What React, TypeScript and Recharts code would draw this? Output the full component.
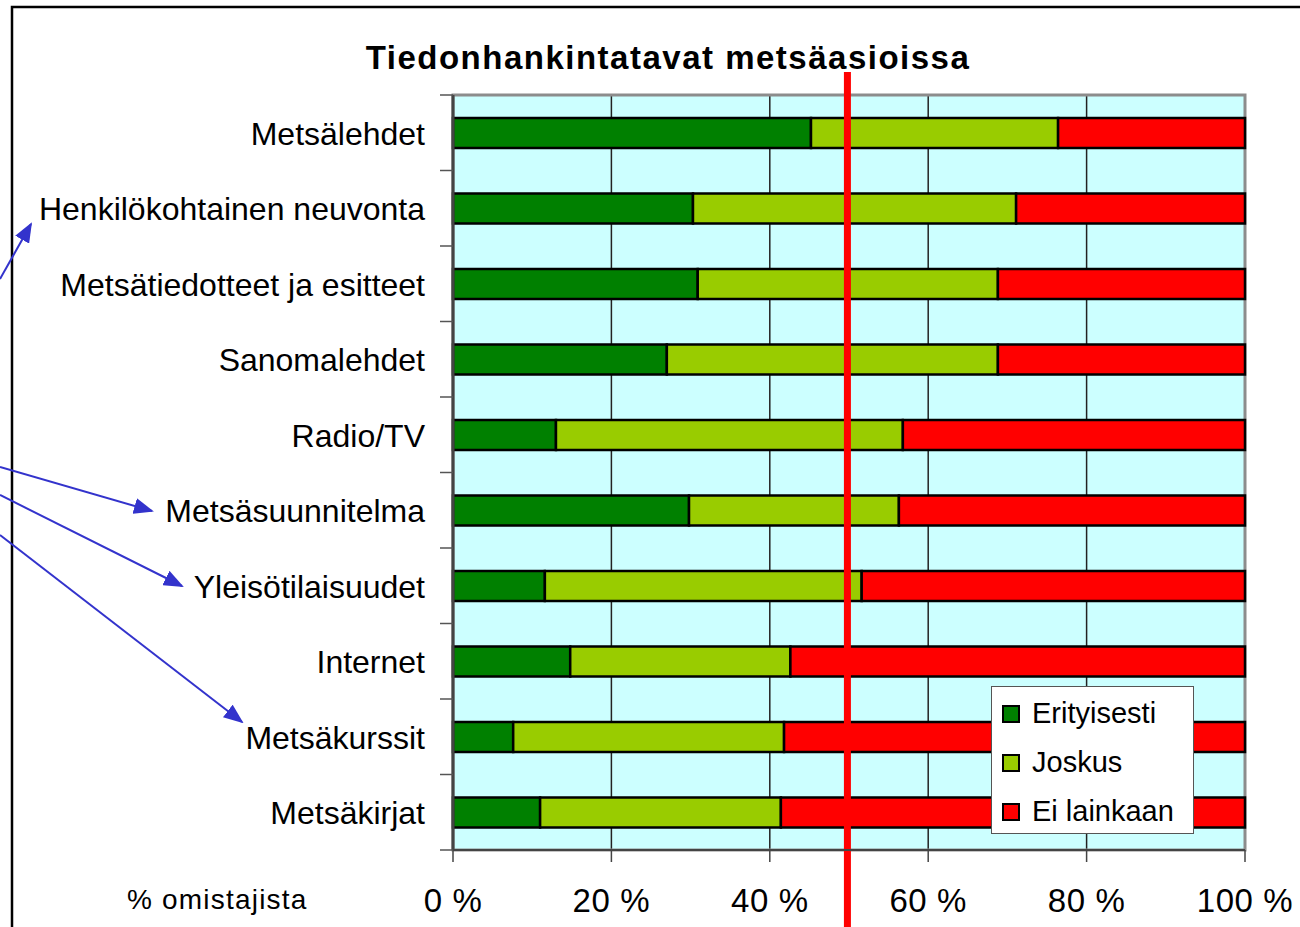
import React from "react";
import {
  Bar,
  BarChart,
  CartesianGrid,
  ReferenceArea,
  ReferenceLine,
  XAxis,
  YAxis,
} from "recharts";

const categories = [
  "Metsälehdet",
  "Henkilökohtainen neuvonta",
  "Metsätiedotteet ja esitteet",
  "Sanomalehdet",
  "Radio/TV",
  "Metsäsuunnitelma",
  "Yleisötilaisuudet",
  "Internet",
  "Metsäkurssit",
  "Metsäkirjat",
];
const erityisesti = [45.2, 30.3, 30.9, 27.0, 13.0, 29.8, 11.6, 14.8, 7.6, 11.0];
const joskus = [31.2, 40.8, 37.9, 41.8, 43.8, 26.5, 40.0, 27.8, 34.2, 30.4];
const eiLainkaan = [23.6, 28.9, 31.2, 31.2, 43.2, 43.7, 48.4, 57.4, 58.2, 58.6];
const xTicks = [0, 20, 40, 60, 80, 100];
const markerValue = 49.8;

const series = [
  { key: "erityisesti", name: "Erityisesti", color: "#008000" },
  { key: "joskus", name: "Joskus", color: "#99CC00" },
  { key: "ei", name: "Ei lainkaan", color: "#FF0000" },
];

const data = categories.map((name, i) => ({
  name,
  erityisesti: erityisesti[i],
  joskus: joskus[i],
  ei: eiLainkaan[i],
}));

const FONT = "'Liberation Sans', Arial, sans-serif";
const TOP = 95;
const BOTTOM = 850;
const LEFT = 453;
const BAND = (BOTTOM - TOP) / categories.length;

function CategoryTick(props: any) {
  const { x, y, payload, index } = props;
  const top = y - BAND / 2;
  return (
    <g>
      <line x1={LEFT - 13} x2={LEFT} y1={top} y2={top} stroke="#555" strokeWidth={1.5} />
      {index === categories.length - 1 && (
        <line x1={LEFT - 13} x2={LEFT} y1={top + BAND} y2={top + BAND} stroke="#555" strokeWidth={1.5} />
      )}
      <text
        x={x - 20}
        y={y + 1}
        textAnchor="end"
        dominantBaseline="central"
        fontSize={32}
        fontFamily={FONT}
        fill="#000"
      >
        {payload.value}
      </text>
    </g>
  );
}

// the red marker runs from just under the title to the bottom of the picture
function MarkerLine(props: any) {
  const { x1 } = props;
  return <line x1={x1} x2={x1} y1={TOP - 23} y2={927} stroke="#FF0000" strokeWidth={7} />;
}

function Arrow({ x1, y1, x2, y2 }: { x1: number; y1: number; x2: number; y2: number }) {
  return (
    <line x1={x1} y1={y1} x2={x2} y2={y2} stroke="#3333CC" strokeWidth={2} markerEnd="url(#arrowhead)" />
  );
}

export default function App() {
  return (
    <div style={{ position: "absolute", left: 0, top: 0, width: 1300, height: 927, background: "#fff", overflow: "hidden" }}>
      <BarChart
        width={1300}
        height={927}
        data={data}
        layout="vertical"
        barSize={30}
        margin={{ top: TOP, right: 1300 - 1245, bottom: 927 - BOTTOM - 60, left: 0 }}
      >
        <CartesianGrid horizontal={false} fill="#CCFFFF" stroke="#222" strokeWidth={1.5} verticalValues={[20, 40, 60, 80]} />
        <ReferenceArea x1={0} x2={100} fill="none" stroke="#8c8c8c" strokeWidth={3} ifOverflow="visible" />
        <XAxis
          type="number"
          domain={[0, 100]}
          ticks={xTicks}
          height={60}
          tickFormatter={(v: number) => `${v} %`}
          tick={{ fontSize: 33, fontFamily: FONT, fill: "#000", letterSpacing: 0.6 }}
          tickSize={12}
          tickMargin={27}
          stroke="#444"
          axisLine={{ stroke: "#444", strokeWidth: 2 }}
          tickLine={{ stroke: "#444", strokeWidth: 1.5 }}
          interval={0}
        />
        <YAxis
          type="category"
          dataKey="name"
          width={LEFT}
          tick={<CategoryTick />}
          tickLine={false}
          axisLine={{ stroke: "#444", strokeWidth: 3 }}
          interval={0}
        />
        {series.map((s) => (
          <Bar
            key={s.key}
            dataKey={s.key}
            name={s.name}
            stackId="a"
            fill={s.color}
            stroke="#000"
            strokeWidth={2.5}
            isAnimationActive={false}
          />
        ))}
        <ReferenceLine x={markerValue} shape={<MarkerLine />} ifOverflow="visible" />
      </BarChart>
      <svg width={1300} height={927} style={{ position: "absolute", left: 0, top: 0, pointerEvents: "none" }}>
        <defs>
          <marker id="arrowhead" markerWidth="10" markerHeight="8" refX="9" refY="4" orient="auto" markerUnits="strokeWidth">
            <path d="M0,0 L10,4 L0,8 Z" fill="#3333CC" />
          </marker>
        </defs>
        <rect x={12} y={7} width={1400} height={1000} fill="none" stroke="#000" strokeWidth={2.5} />
        <text x={668} y={69} textAnchor="middle" fontSize={33} fontWeight="bold" fontFamily={FONT} letterSpacing={1.5}>
          Tiedonhankintatavat metsäasioissa
        </text>
        <text x={127} y={909} fontSize={28} fontFamily={FONT} letterSpacing={1.2}>
          % omistajista
        </text>
        <Arrow x1={0} y1={279} x2={31} y2={224} />
        <Arrow x1={0} y1={467} x2={152} y2={511} />
        <Arrow x1={0} y1={495} x2={182} y2={586} />
        <Arrow x1={0} y1={535} x2={242} y2={722} />
      </svg>
      <div
        style={{
          position: "absolute",
          left: 991,
          top: 686,
          width: 203,
          height: 148,
          background: "#fff",
          border: "1.5px solid #555",
          fontFamily: FONT,
          fontSize: 29,
          boxSizing: "border-box",
          paddingLeft: 10,
          paddingTop: 2,
        }}
      >
        {series.map((s) => (
          <div key={s.key} style={{ display: "flex", alignItems: "center", height: 49 }}>
            <span
              style={{
                display: "inline-block",
                width: 14,
                height: 14,
                background: s.color,
                border: "2px solid #000",
                marginRight: 12,
              }}
            />
            <span>{s.name}</span>
          </div>
        ))}
      </div>
    </div>
  );
}
